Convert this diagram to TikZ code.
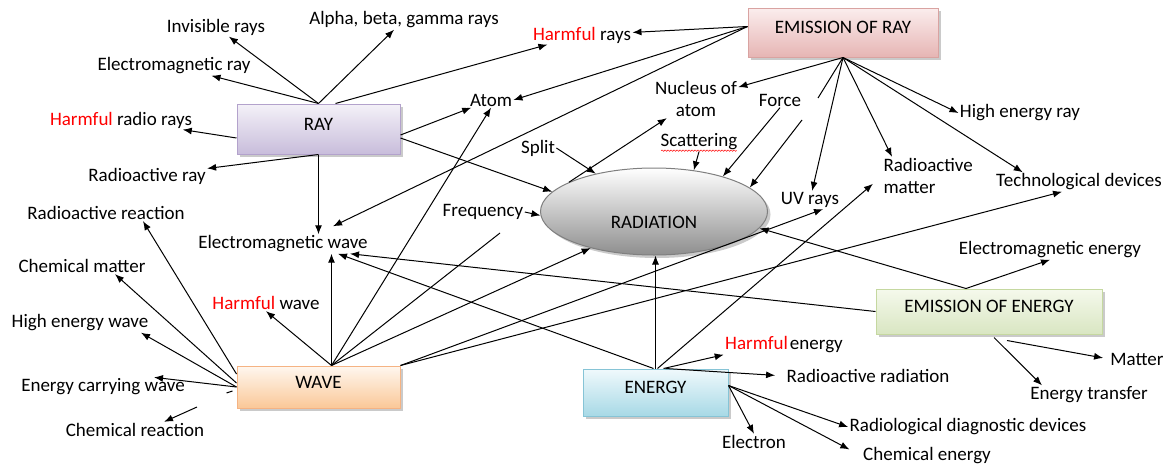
\documentclass[tikz,border=0pt]{standalone}
\usepackage{fontspec}
\setmainfont{Carlito}
\usetikzlibrary{arrows.meta,shapes.geometric,shadows,decorations.pathmorphing}
\definecolor{raytop}{HTML}{F4F1F8}
\definecolor{raybot}{HTML}{C8BDDB}
\definecolor{rayline}{HTML}{B3A2CC}
\definecolor{emrtop}{HTML}{FBEDED}
\definecolor{emrbot}{HTML}{E6B5B4}
\definecolor{emrline}{HTML}{D9A3A1}
\definecolor{wavetop}{HTML}{FFF7EF}
\definecolor{wavebot}{HTML}{FAC898}
\definecolor{waveline}{HTML}{F5B383}
\definecolor{entop}{HTML}{F0F9FC}
\definecolor{enbot}{HTML}{A7D9E6}
\definecolor{enline}{HTML}{86C4D6}
\definecolor{eetop}{HTML}{F5F9EC}
\definecolor{eebot}{HTML}{D9E6C2}
\definecolor{eeline}{HTML}{C5D8A0}
\definecolor{radbot}{HTML}{8E8E8E}
\definecolor{radline}{HTML}{7F7F7F}
\newcommand\harmful[1]{\textcolor{red}{#1}}
\begin{document}
\begin{tikzpicture}[x=1pt,y=-1pt,font=\fontsize{19}{22}\selectfont,
  >={Latex[length=9pt,width=7pt]}, line width=1pt,
  boxshadow/.style={drop shadow={shadow xshift=3pt,shadow yshift=-3pt,opacity=0.35,fill=black!60}},
  conceptbox/.style={rectangle,draw,inner sep=0pt,text height=12pt,text depth=10pt,boxshadow},
  txt/.style={inner sep=1pt}]
\useasboundingbox (0,0) rectangle (1166,466);
% main concepts
\node[conceptbox,draw=rayline,top color=raytop,bottom color=raybot,minimum width=163pt,minimum height=50pt] (ray) at (318.5,129) {RAY};
\node[conceptbox,draw=emrline,top color=emrtop,bottom color=emrbot,minimum width=190pt,minimum height=49pt] (emissray) at (843,32.5) {EMISSION OF RAY};
\node[conceptbox,draw=waveline,top color=wavetop,bottom color=wavebot,minimum width=163pt,minimum height=42pt] (wave) at (318.5,387) {WAVE};
\node[conceptbox,draw=enline,top color=entop,bottom color=enbot,minimum width=145pt,minimum height=47pt] (energy) at (655.5,392.5) {ENERGY};
\node[conceptbox,draw=eeline,top color=eetop,bottom color=eebot,minimum width=226pt,minimum height=45pt] (emissenergy) at (989,311.5) {EMISSION OF ENERGY};
\node[ellipse,draw=radline,top color=white,bottom color=radbot,minimum width=227pt,minimum height=87pt,text height=34pt,text depth=0pt,boxshadow] (radiation) at (654,211.5) {RADIATION};
% labels
\node[txt] (invis) at (216,27) {Invisible rays};
\node[txt] (alpha) at (404,20) {Alpha, beta, gamma rays};
\node[txt] (harmrays) at (582,35) {\harmful{Harmful} rays};
\node[txt] (emray) at (174,66) {Electromagnetic ray};
\node[txt] (harmradio) at (121,120) {\harmful{Harmful} radio rays};
\node[txt] (radray) at (147,176) {Radioactive ray};
\node[txt] (radreact) at (106,213) {Radioactive reaction};
\node[txt] (atom) at (491,100) {Atom};
\node[txt] (split) at (538,148) {Split};
\node[txt] (freq) at (483,212) {Frequency};
\node[txt,align=center] (nucleus) at (696,99) {Nucleus of\\atom};
\node[txt] (force) at (780,100) {Force};
\node[txt] (scatter) at (699,142) {Scattering};
\node[txt] (highray) at (1020,113) {High energy ray};
\node[txt,align=left,anchor=west] (radmatter) at (882,176) {Radioactive\\matter};
\node[txt] (techdev) at (1079,182) {Technological devices};
\node[txt] (uvrays) at (810,200) {UV rays};
\node[txt] (emwave) at (283,244) {Electromagnetic wave};
\node[txt] (chemmatter) at (82,266) {Chemical matter};
\node[txt] (harmwave) at (266,303) {\harmful{Harmful} wave};
\node[txt] (highwave) at (80,323) {High energy wave};
\node[txt] (energywave) at (103,387) {Energy carrying wave};
\node[txt] (chemreact) at (135,430) {Chemical reaction};
\node[txt] (emenergy) at (1050,250) {Electromagnetic energy};
\node[txt] (harmenergy) at (784,345) {\harmful{Harmful}\hspace{2pt}energy};
\node[txt] (radrad) at (868,376) {Radioactive radiation};
\node[txt] (matter) at (1137,359) {Matter};
\node[txt] (etransfer) at (1089,395) {Energy transfer};
\node[txt] (electron) at (754,442) {Electron};
\node[txt] (raddiag) at (968,427) {Radiological diagnostic devices};
\node[txt] (chemenergy) at (927,456) {Chemical energy};
\draw[red,line width=0.5pt,decorate,decoration={snake,amplitude=0.7pt,segment length=3pt}]
  ([xshift=2pt,yshift=1pt]scatter.south west) -- ([xshift=-2pt,yshift=1pt]scatter.south east);
% loose ends
\coordinate (wtop) at ([xshift=13pt]wave.north);
\coordinate (brkA) at (818,98);
\coordinate (brkB) at (802,120);
\coordinate (wend) at (500,233);
\coordinate (crtail) at (197,407);
% RAY
\draw[->] (ray.north) -- (emray);
\draw[->] (ray.north) -- (invis);
\draw[->] (ray.north) -- (alpha);
\draw[->] ([xshift=17pt]ray.north) -- (harmrays);
\draw[->] ([yshift=-9pt]ray.west) -- (harmradio);
\draw[->] (ray.south) -- (radray);
\draw[->] (ray.south) -- (ray.south |- emwave.north);
\draw[->] ([yshift=-6pt]ray.east) -- (atom);
\draw[->] ([yshift=-9pt]ray.east) -- (radiation.169);
% EMISSION OF RAY
\draw[->] ([yshift=6pt]emissray.west) -- (harmrays);
\draw[->] ([yshift=6pt]emissray.west) -- (atom.east);
\draw[->] ([yshift=6pt]emissray.west) -- ([xshift=50pt,yshift=8pt]emwave.north);
\draw[->] (emissray.south) -- (nucleus);
\draw (emissray.south) -- (brkA);
\draw[->] (brkB) -- (radiation.14);
\draw[->] (emissray.south) -- (uvrays);
\draw[->] (emissray.south) -- ([xshift=10pt]radmatter.north west);
\draw[->] (emissray.south) -- (highray.west);
\draw[->] (emissray.south) -- ([xshift=28pt]techdev.north west);
% RADIATION
\draw[->] (radiation.161) -- (nucleus);
\draw[->] (split.east) -- (radiation.147);
\draw[->] (scatter.south) -- (radiation.46);
\draw[->] (force.south) -- (radiation.27);
\draw[->] (freq.east) -- (radiation.182);
% WAVE
\draw[->] (wtop) -- (wtop |- emwave.south);
\draw[->] (wtop) -- (harmwave.south);
\draw[->] (wtop) -- (atom.south);
\draw (wtop) -- (wend);
\draw[->] (wtop) -- (radiation.210);
\draw[->] (wave.north east) -- ([xshift=13pt]uvrays.south);
\draw[->] (wave.north east) -- ([xshift=-17pt]techdev.south);
\draw[->] ([yshift=13pt]wave.west) -- ([xshift=37pt]radreact.south);
\draw[->] ([yshift=4pt]wave.west) -- ([xshift=33pt]chemmatter.south);
\draw[->] (wave.west) -- ([xshift=61pt]highwave.south);
\draw[->] (wave.west) -- ([xshift=51pt]energywave.north);
\draw ([xshift=-10pt,yshift=-6pt]wave.west) -- ++(6,-2);
\draw[->] (crtail) -- ([xshift=29pt]chemreact.north);
% ENERGY
\draw[->] (energy.north) -- (energy.north |- radiation.south);
\draw[->] ([xshift=-2pt]energy.north) -- ([xshift=55pt]emwave.south);
\draw[->,shorten >=12pt] ([xshift=2pt]energy.north) -- (radmatter.west);
\draw[->] ([xshift=8pt]energy.north) -- (harmenergy.south west);
\draw[->,shorten >=10pt] ([xshift=10pt]energy.north) -- (radrad.west);
\draw[->] ([yshift=7pt]energy.east) -- (electron.north);
\draw[->] ([yshift=7pt]energy.east) -- (raddiag.west);
\draw[->,shorten >=14pt] ([yshift=7pt]energy.east) -- (chemenergy.west);
% EMISSION OF ENERGY
\draw[->] ([xshift=-23pt]emissenergy.north) -- (emenergy.south);
\draw[->] ([xshift=-23pt]emissenergy.north) -- (radiation.351);
\draw[->] (emissenergy.west) -- ([xshift=67pt]emwave.south);
\draw[->] ([xshift=5pt,yshift=-3pt]emissenergy.south) -- ([xshift=-47pt]etransfer.north);
\draw[->,shorten >=6pt] ([xshift=18pt,yshift=-6pt]emissenergy.south) -- (matter.west);
\end{tikzpicture}
\end{document}
